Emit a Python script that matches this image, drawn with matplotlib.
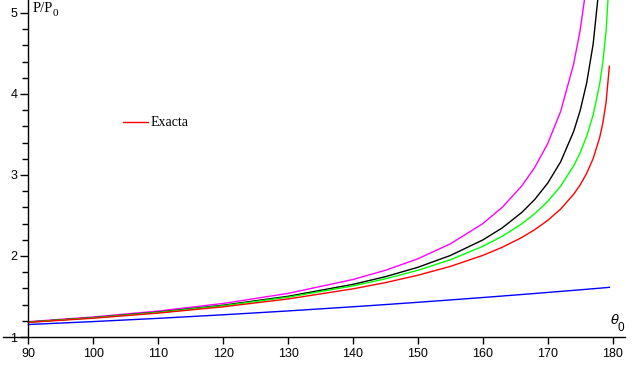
import matplotlib
matplotlib.use("Agg")
import matplotlib.pyplot as plt

# amplitude theta_0 (degrees)
theta = [90, 100, 110, 120, 130, 140, 145, 150, 155, 160, 163, 166, 168, 170,
         172, 174, 175, 176, 177, 178, 178.5, 179, 179.5]

# exact P/P0 (red)
exacta = [1.1803, 1.2322, 1.2953, 1.3729, 1.4698, 1.5944, 1.6714, 1.7622, 1.8714,
          2.0075, 2.1077, 2.2284, 2.3248, 2.4394, 2.5800, 2.7620, 2.8776, 3.0193,
          3.2021, 3.4601, 3.6430, 3.9008, 4.3427]
# green approximation
green = [1.1833, 1.2372, 1.3036, 1.3863, 1.4917, 1.6306, 1.7183, 1.8236, 1.9532,
         2.1186, 2.2434, 2.3969, 2.5219, 2.6730, 2.8624, 3.1129, 3.2751, 3.4766,
         3.7407, 4.1204, 4.3935, 4.7828, 5.4590]
# black approximation
black = [1.1845, 1.2394, 1.3072, 1.3926, 1.5026, 1.6499, 1.7447, 1.8606, 2.0061,
         2.1978, 2.3472, 2.5373, 2.6977, 2.8991, 3.1637, 3.5376, 3.7951, 4.1345,
         4.6148, 5.3834, 5.9, 6.6, 7.5]
# magenta approximation
magenta = [1.1892, 1.2473, 1.3204, 1.4142, 1.5382, 1.7099, 1.8236, 1.9656, 2.1495,
           2.3997, 2.6010, 2.8645, 3.0930, 3.3872, 3.7862, 4.3710, 4.7880, 5.3528,
           6.2, 7.6, 8.7, 10.7, 15.1]
# blue approximation
blue = [1.1542, 1.1904, 1.2304, 1.2742, 1.3217, 1.3732, 1.4003, 1.4284, 1.4575,
        1.4874, 1.5058, 1.5245, 1.5371, 1.5502, 1.5630, 1.5760, 1.5826, 1.5892,
        1.5959, 1.6026, 1.6060, 1.6094, 1.6134]

xticks = [90, 100, 110, 120, 130, 140, 150, 160, 170, 180]
yticks = [1, 2, 3, 4, 5]

fig = plt.figure(figsize=(6.35, 3.69), dpi=100)
ax = fig.add_axes([0, 0, 1, 1])
ax.set_xlim(85.61, 183.45)
ax.set_ylim(0.605, 5.160)

lw = 1.0
ax.plot(theta, blue, color=(0, 0, 1), lw=lw)
ax.plot(theta, magenta, color=(1, 0, 1), lw=lw)
ax.plot(theta, black, color="black", lw=lw)
ax.plot(theta, green, color=(0, 1, 0), lw=lw)
ax.plot(theta, exacta, color=(1, 0, 0), lw=lw)

for s in ["top", "right"]:
    ax.spines[s].set_visible(False)
ax.spines["left"].set_position(("data", 90))
ax.spines["bottom"].set_position(("data", 1))
ax.spines["left"].set_bounds(1, 5.16)
ax.spines["bottom"].set_bounds(86.07, 181.9)
ax.spines["left"].set_linewidth(1.0)
ax.spines["bottom"].set_linewidth(1.0)

ax.set_xticks(xticks)
ax.set_xticklabels([str(v) for v in xticks])
ax.set_yticks(yticks)
ax.set_yticklabels([str(v) for v in yticks])
ax.set_yticks([v / 5 for v in range(6, 26)], minor=True)
ax.tick_params(axis="x", direction="out", length=5, width=1, pad=3,
               labelsize=9)
ax.tick_params(axis="y", which="major", direction="out", length=6, width=1,
               pad=2, labelsize=9)
ax.tick_params(axis="y", which="minor", direction="out", length=4, width=1)
for lab in ax.get_xticklabels() + ax.get_yticklabels():
    lab.set_fontfamily("Liberation Sans")
ax.set_facecolor("white")

# axis labels
ax.text(33 / 635, 1 - 9 / 369, "P/P", transform=ax.transAxes,
        family="Liberation Serif", fontsize=10.5, va="center", ha="left")
ax.text(52.5 / 635, 1 - 13 / 369, "0", transform=ax.transAxes,
        family="Liberation Serif", fontsize=8, va="center", ha="left")
ax.text(610.5 / 635, 1 - 320 / 369, "\u03b8", transform=ax.transAxes,
        family="DejaVu Sans", style="italic", fontsize=9.5, va="center", ha="left")
ax.text(618 / 635, 1 - 328 / 369, "0", transform=ax.transAxes,
        family="Liberation Sans", fontsize=8.5, va="center", ha="left")

# legend
ax.plot([123 / 635, 148 / 635], [1 - 122 / 369, 1 - 122 / 369],
        transform=ax.transAxes, color=(1, 0, 0), lw=1.0)
ax.text(151 / 635, 1 - 123 / 369, "Exacta", transform=ax.transAxes,
        family="Liberation Serif", fontsize=10, va="center", ha="left")

fig.savefig("out.png", dpi=100)
